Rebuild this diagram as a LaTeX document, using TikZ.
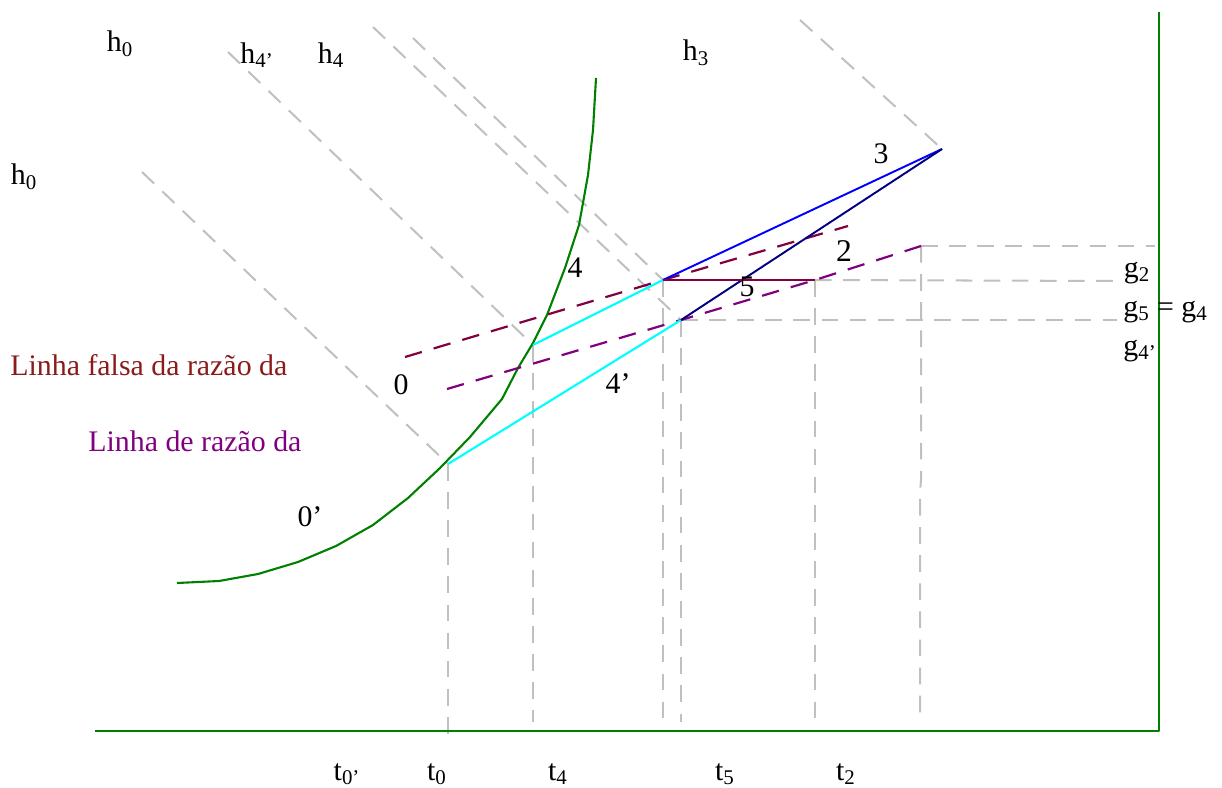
\documentclass[tikz,border=0pt]{standalone}
\usepackage{fontspec}
\setmainfont{Liberation Serif}
\begin{document}
\begin{tikzpicture}[x=0.02cm,y=-0.02cm,
  lbl/.style={inner sep=0pt, font=\fontsize{17}{20}\selectfont},
  guide/.style={draw={rgb,255:red,192;green,192;blue,192}, line width=1.15pt, dash pattern=on 9.5pt off 6.5pt},
  falsa/.style={draw={rgb,255:red,128;green,0;blue,64}, line width=1.25pt, dash pattern=on 10pt off 7pt},
  razao/.style={draw={rgb,255:red,128;green,0;blue,128}, line width=1.25pt, dash pattern=on 10pt off 7pt},
  axis/.style={draw={rgb,255:red,0;green,128;blue,0}, line width=1.2pt, line join=round},
  cyanl/.style={draw={rgb,255:red,0;green,255;blue,255}, line width=1.2pt},
  bluel/.style={draw={rgb,255:red,0;green,0;blue,255}, line width=1.1pt},
  navyl/.style={draw={rgb,255:red,0;green,0;blue,128}, line width=1.1pt},
  maroonl/.style={draw={rgb,255:red,128;green,0;blue,64}, line width=1.1pt}]
\useasboundingbox (0,0) rectangle (1222,787);

% key points
\coordinate (P0p) at (448,464);
\coordinate (P4) at (533,345);
\coordinate (P4p) at (681,320);
\coordinate (Q) at (663,280);
\coordinate (P3) at (942,149);
\coordinate (P5) at (815,280);
\coordinate (P2) at (921,246);
\coordinate (O) at (1159,731);
\coordinate (Xe) at (95,731);
\coordinate (Ye) at (1159,12);
\coordinate (Bl) at (0,740);
\coordinate (Bs) at (0,722);
\coordinate (Ba) at (0,731);

% guide dashed lines
\coordinate (D0) at (142,172);
\coordinate (D4) at (228,52);
\coordinate (D4p) at (373,27);
\coordinate (DQ) at (413,38);
\coordinate (D3) at (800,20);
\draw[guide] (D0) -- (P0p);
\draw[guide] (D4) -- (P4);
\draw[guide] (D4p) -- (P4p);
\draw[guide] (DQ) -- (Q);
\draw[guide] (D3) -- (P3);
\draw[guide] (P0p) -- (P0p |- Bl);
\draw[guide] (P4) -- (P4 |- Bs);
\draw[guide] (Q) -- (Q |- Ba);
\draw[guide] (P4p) -- (P4p |- Bs);
\draw[guide] (P5) -- (P5 |- Bs);
\draw[guide] (P2) -- (921,480) -- (920,492) -- (920,722);
\coordinate (H2) at (1155,246);
\coordinate (H5) at (1117,281);
\coordinate (H4) at (1117,320);
\draw[guide] (P2) -- (H2);
\draw[guide] (P5) -- (H5);
\draw[guide] (P4p) -- (H4);

% axes
\draw[axis] (Xe) -- (O) -- (Ye);

% curve
\draw[axis] (177,583) -- (219,581) -- (258,574) -- (298,562) -- (336,546) -- (373,525) -- (408,498) -- (440,468) -- (470,437) -- (502,399) -- (518,368) -- (533,343) -- (547,315) -- (565,268) -- (579,225) -- (588,175) -- (593,130) -- (596,78);

% dashed ratio lines
\coordinate (F0) at (405,357);
\coordinate (F1) at (848,226);
\draw[falsa] (F0) -- (Q) -- (F1);
\coordinate (R0) at (447,389);
\draw[razao] (R0) -- (P4p) -- (P5) -- (P2);

% solid lines
\draw[cyanl] (P0p) -- (P4p);
\draw[cyanl] (P4) -- (Q);
\draw[bluel] (Q) -- (P3);
\draw[navyl] (P4p) -- (P3);
\draw[maroonl] (Q) -- (P5);

% labels
\node[lbl] (lh0a) at (120,44) {h\textsubscript{0}};
\node[lbl] (lh4p) at (257,55) {h\textsubscript{4’}};
\node[lbl] (lh4) at (331,55) {h\textsubscript{4}};
\node[lbl] (lh3) at (696,53) {h\textsubscript{3}};
\node[lbl] (lh0b) at (24,177) {h\textsubscript{0}};
\node[lbl] (l3) at (881,154) {3};
\node[lbl, font=\fontsize{18}{20}\selectfont] (l2) at (844,251) {2};
\node[lbl] (l4) at (575,268) {4};
\node[lbl] (l5) at (747,287) {5};
\node[lbl] (l4p) at (618,384) {4’};
\node[lbl] (l0) at (401,385) {0};
\node[lbl] (l0p) at (310,517) {0’};
\node[lbl] (lg2) at (1137,273) {g\textsubscript{2}};
\node[lbl, anchor=west] (lg5) at (1123,312) {g\textsubscript{5} = g\textsubscript{4}};
\node[lbl] (lg4p) at (1140,351) {g\textsubscript{4’}};
\node[lbl] (lt0p) at (347,774) {t\textsubscript{0’}};
\node[lbl] (lt0) at (437,774) {t\textsubscript{0}};
\node[lbl] (lt4) at (558,774) {t\textsubscript{4}};
\node[lbl] (lt5) at (725,774) {t\textsubscript{5}};
\node[lbl] (lt2) at (846,774) {t\textsubscript{2}};
\node[lbl, anchor=west, text={rgb,255:red,139;green,26;blue,26}] (lfalsa) at (10,365) {Linha falsa da razão da};
\node[lbl, anchor=west, text={rgb,255:red,128;green,0;blue,128}] (lrazao) at (88,441) {Linha de razão da};
\end{tikzpicture}
\end{document}
